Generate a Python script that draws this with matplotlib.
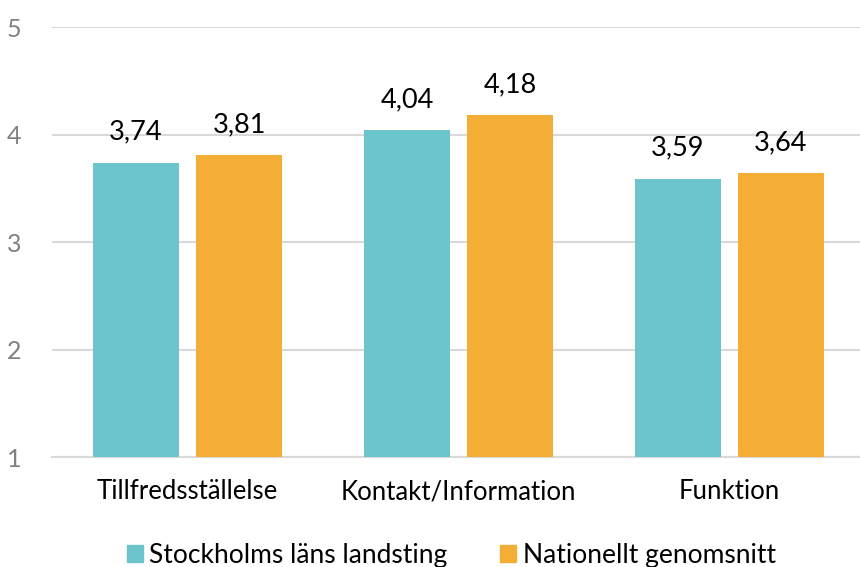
import matplotlib
matplotlib.use("Agg")
import matplotlib.pyplot as plt
import numpy as np
from matplotlib.patches import Patch

plt.rcParams['font.family'] = ['Lato', 'DejaVu Sans']

categories = ["Tillfredsställelse", "Kontakt/Information", "Funktion"]
series_names = ["Stockholms läns landsting", "Nationellt genomsnitt"]
stockholm = [3.74, 4.04, 3.59]
national = [3.81, 4.18, 3.64]
value_labels_sthlm = ["3,74", "4,04", "3,59"]
value_labels_nat = ["3,81", "4,18", "3,64"]
yticks = [1, 2, 3, 4, 5]

teal = "#6CC5CD"
orange = "#F4AE36"

fig = plt.figure(figsize=(8.6, 5.67), dpi=100)
ax = fig.add_axes([0.0605, 0.194, 0.9453, 0.758])

x = np.arange(len(categories))
w = 0.314
off = 0.19
b1 = ax.bar(x - off, np.array(stockholm) - 1, w, bottom=1, color=teal, zorder=3)
b2 = ax.bar(x + off, np.array(national) - 1, w, bottom=1, color=orange, zorder=3)

for bars, labs in ((b1, value_labels_sthlm), (b2, value_labels_nat)):
    for r, lab in zip(bars, labs):
        ax.annotate(lab, (r.get_x() + r.get_width() / 2, r.get_y() + r.get_height()),
                    xytext=(0, 13), textcoords="offset points", ha="center", va="bottom",
                    fontsize=19.5, color="#000000")

ax.set_xlim(-0.5, 2.5)
ax.set_ylim(1, 5)
ax.set_yticks(yticks)
ax.set_yticklabels([str(v) for v in yticks])
ax.set_xticks(x)
ax.set_xticklabels(categories)
ax.yaxis.grid(True, color="#D9D9D9", linewidth=1.5, zorder=0)
ax.set_axisbelow(True)
for s in ["top", "right", "left"]:
    ax.spines[s].set_visible(False)
ax.spines["bottom"].set_color("#D9D9D9")
ax.spines["bottom"].set_linewidth(1.5)
ax.tick_params(axis="y", length=0, labelsize=18, labelcolor="#808080", pad=22)
ax.tick_params(axis="x", length=0, labelsize=18.5, labelcolor="#000000", pad=16)

handles = [Patch(color=teal), Patch(color=orange)]
fig.legend(handles, series_names, loc="center", bbox_to_anchor=(0.525, 0.021), ncol=2,
           frameon=False, fontsize=19, handlelength=0.6, handleheight=0.6,
           handletextpad=0.25, columnspacing=2.0, borderpad=0.1)

fig.savefig("out.png", dpi=100)
